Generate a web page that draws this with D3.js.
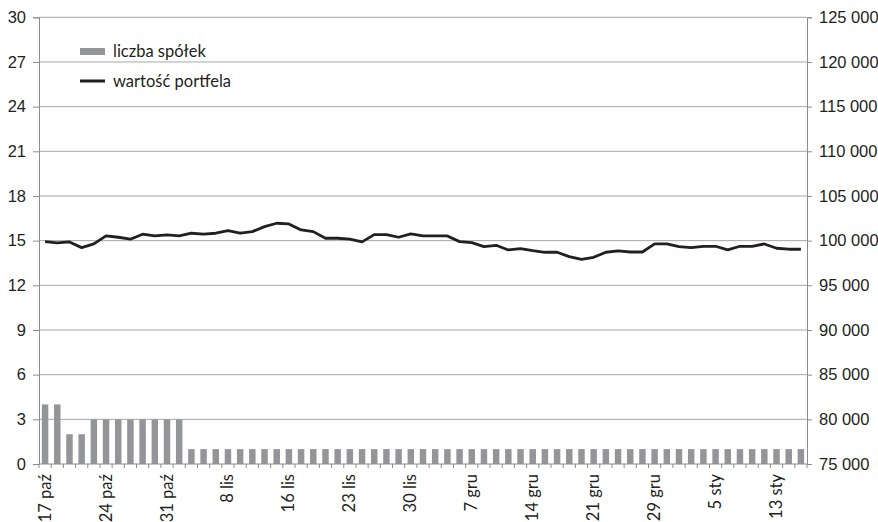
<!DOCTYPE html>
<html>
<head>
<meta charset="utf-8">
<script src="https://cdn.jsdelivr.net/npm/d3@7"></script>
<style>
  html, body { margin: 0; padding: 0; background: #fff; }
  svg { display: block; font-family: Lato, "Open Sans", sans-serif; }
</style>
</head>
<body>
<svg id="chart" width="878" height="522"></svg>
<script>
// Dates of the observations (Oct – Jan)
const dates = [
  "17 paź","18 paź","21 paź","22 paź","23 paź","24 paź","25 paź","28 paź","29 paź","30 paź",
  "31 paź","4 lis","5 lis","6 lis","7 lis","8 lis","12 lis","13 lis","14 lis","15 lis",
  "16 lis","19 lis","20 lis","21 lis","22 lis","23 lis","26 lis","27 lis","28 lis","29 lis",
  "30 lis","3 gru","4 gru","5 gru","6 gru","7 gru","10 gru","11 gru","12 gru","13 gru",
  "14 gru","17 gru","18 gru","19 gru","20 gru","21 gru","23 gru","24 gru","27 gru","28 gru",
  "29 gru","30 gru","31 gru","2 sty","3 sty","5 sty","7 sty","8 sty","9 sty","10 sty",
  "13 sty","14 sty","15 sty"
];

// Number of companies held in the portfolio
const companyCount = [
  4,4,2,2,3,3,3,3,3,3,
  3,3,1,1,1,1,1,1,1,1,
  1,1,1,1,1,1,1,1,1,1,
  1,1,1,1,1,1,1,1,1,1,
  1,1,1,1,1,1,1,1,1,1,
  1,1,1,1,1,1,1,1,1,1,
  1,1,1
];

// Portfolio value (PLN)
const portfolioValue = [
  99890,99740,99860,99220,99630,100530,100380,100160,100720,100530,
  100640,100530,100830,100720,100830,101120,100830,101010,101570,101950,
  101870,101200,101010,100270,100270,100160,99860,100680,100680,100380,
  100750,100530,100530,100530,99890,99780,99330,99480,98960,99110,
  98880,98700,98700,98210,97910,98140,98700,98850,98730,98730,
  99630,99630,99330,99220,99370,99370,98960,99370,99370,99630,
  99150,99040,99040
];

// Axis tick labels
const leftTicks = [0, 3, 6, 9, 12, 15, 18, 21, 24, 27, 30];
const rightTicks = [75000, 80000, 85000, 90000, 95000, 100000, 105000, 110000, 115000, 120000, 125000];
const labelEvery = 5;

const legendItems = ["liczba spółek", "wartość portfela"];

const svg = d3.select("#chart");
const margin = { left: 39, right: 71, top: 17.3, bottom: 58 };
const W = 878, H = 522;
const x0 = margin.left, x1 = W - margin.right;
const y0 = H - margin.bottom, y1 = margin.top;

const fontSize = "16.5px";
const axisColor = "#8c8c8c";
const gridColor = "#a6a6a6";
const barColor = "#939598";
const lineColor = "#231f20";
const textColor = "#231f20";

const x = d3.scaleBand().domain(d3.range(dates.length)).range([x0, x1]).paddingInner(0.47).paddingOuter(0.235);
const xStep = (x1 - x0) / dates.length;
const xc = i => x0 + xStep * (i + 0.5);

const yL = d3.scaleLinear().domain([0, 30]).range([y0, y1]);
const yR = d3.scaleLinear().domain([75000, 125000]).range([y0, y1]);

// horizontal gridlines
svg.append("g").selectAll("line").data(leftTicks.filter(t => t > 0)).join("line")
  .attr("x1", x0).attr("x2", x1)
  .attr("y1", d => yL(d)).attr("y2", d => yL(d))
  .attr("stroke", gridColor).attr("stroke-width", 1);

// bars
svg.append("g").selectAll("rect").data(companyCount).join("rect")
  .attr("x", (d, i) => x(i))
  .attr("width", x.bandwidth())
  .attr("y", d => yL(d))
  .attr("height", d => yL(0) - yL(d))
  .attr("fill", barColor);

// left axis
const gL = svg.append("g").attr("transform", `translate(${x0},0)`)
  .call(d3.axisLeft(yL).tickValues(leftTicks).tickSize(6).tickPadding(7));
gL.select(".domain").attr("stroke", axisColor);
gL.selectAll(".tick line").attr("stroke", axisColor);
gL.selectAll(".tick text").attr("fill", textColor).style("font-size", fontSize);

// right axis
const fmt = v => d3.format(",")(v).replace(/,/g, " ");
const gR = svg.append("g").attr("transform", `translate(${x1},0)`)
  .call(d3.axisRight(yR).tickValues(rightTicks).tickFormat(fmt).tickSize(5).tickPadding(7));
gR.select(".domain").attr("stroke", axisColor);
gR.selectAll(".tick line").attr("stroke", axisColor);
gR.selectAll(".tick text").attr("fill", textColor).style("font-size", fontSize);

// bottom axis baseline and category ticks
svg.append("line").attr("x1", x0).attr("x2", x1).attr("y1", y0).attr("y2", y0)
  .attr("stroke", axisColor);
svg.append("g").selectAll("line").data(d3.range(dates.length + 1)).join("line")
  .attr("x1", i => x0 + xStep * i).attr("x2", i => x0 + xStep * i)
  .attr("y1", y0).attr("y2", y0 + 4)
  .attr("stroke", axisColor);

// date labels
svg.append("g").selectAll("text")
  .data(dates.map((d, i) => ({ d, i })).filter(o => o.i % labelEvery === 0))
  .join("text")
  .attr("transform", o => `translate(${xc(o.i) + 5.5},${y0 + 10}) rotate(-90)`)
  .attr("text-anchor", "end")
  .attr("fill", textColor)
  .style("font-size", fontSize)
  .text(o => o.d);

// portfolio value line
svg.append("path")
  .datum(portfolioValue)
  .attr("fill", "none")
  .attr("stroke", lineColor)
  .attr("stroke-width", 2.8)
  .attr("stroke-linejoin", "round")
  .attr("d", d3.line().x((d, i) => xc(i)).y(d => yR(d)));

// legend
const lg = svg.append("g");
lg.append("rect").attr("x", 80).attr("y", 48).attr("width", 25).attr("height", 7).attr("fill", barColor);
lg.append("line").attr("x1", 80).attr("x2", 105).attr("y1", 81).attr("y2", 81)
  .attr("stroke", lineColor).attr("stroke-width", 3);
lg.selectAll("text").data(legendItems).join("text")
  .attr("x", 113).attr("y", (d, i) => 57 + i * 30)
  .attr("fill", textColor).style("font-size", fontSize)
  .text(d => d);
</script>
</body>
</html>
